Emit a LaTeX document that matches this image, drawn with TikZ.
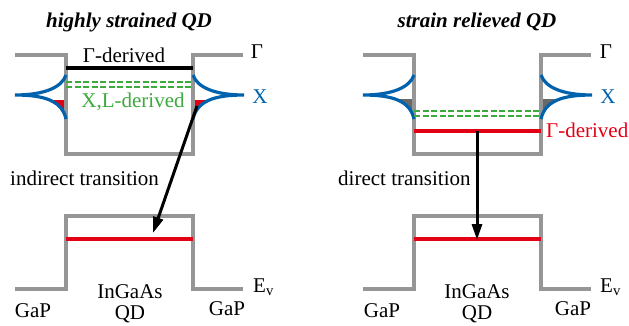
\documentclass[tikz,border=0pt]{standalone}
\usepackage{fontspec}
\setmainfont{Liberation Serif}
\usetikzlibrary{arrows.meta}
\definecolor{bandgray}{RGB}{150,150,150}
\definecolor{xblue}{RGB}{0,98,172}
\definecolor{lgreen}{RGB}{60,170,60}
\definecolor{lred}{RGB}{228,0,20}
\definecolor{fillgray}{RGB}{105,105,105}
\begin{document}
\begin{tikzpicture}[x=1pt,y=-1pt,
  band/.style={bandgray,line width=3.2pt},
  level/.style={line width=3.2pt},
  dlevel/.style={lgreen,line width=2.4pt,dash pattern=on 6pt off 2.5pt},
  xcurve/.style={xblue,line width=3.2pt},
  lbl/.style={font=\fontsize{21}{25}\selectfont,inner sep=0pt,anchor=base},
  trans/.style={line width=3pt,-{Triangle[length=16pt,width=10pt]}}]
\useasboundingbox (0,0) rectangle (629,325);

% ---------------- left panel ----------------
\begin{scope}
\clip (0,100) rectangle (66,140);
\fill[lred] (15,95) .. controls (45,95) and (62,101) .. (66,119) -- (66,95) -- cycle;
\end{scope}
\begin{scope}
\clip (193,100) rectangle (260,140);
\fill[lred] (244,95) .. controls (214,95) and (197,101) .. (193,119) -- (193,95) -- cycle;
\end{scope}
\draw[band] (15,55) -- (66,55) -- (66,154) -- (193,154) -- (193,55) -- (243,55);
\draw[band] (15,289) -- (66,289) -- (66,216) -- (193,216) -- (193,289) -- (243,289);
\draw[xcurve] (66,75) .. controls (62,87) and (45,95) .. (15,95)
              .. controls (45,95) and (62,101) .. (66,119);
\draw[xcurve] (193,75) .. controls (197,87) and (214,95) .. (244,95)
              .. controls (214,95) and (197,101) .. (193,119);
\draw[level,black] (66,68) -- (193,68);
\draw[dlevel] (66,82) -- (193,82);
\draw[dlevel] (66,87) -- (193,87);
\draw[level,lred] (66,239) -- (193,239);

\node[lbl] (ttl1) at (129,27) {\bfseries\itshape highly strained QD};
\node[lbl] (gd1) at (124,62) {Γ-derived};
\node[lbl,lgreen] (xl1) at (133,107) {X,L-derived};
\node[lbl] (g1) at (257,58) {Γ};
\node[lbl,xblue] (x1) at (260,103) {X};
\node[lbl,anchor=base west] (it) at (10,185) {indirect transition};
\node[lbl,anchor=base west] (ev1) at (253,292) {E\textsubscript{v}};
\node[lbl] (gapl1) at (33,317) {GaP};
\node[lbl] (ing1) at (130,298) {InGaAs};
\node[lbl] (qd1) at (130,319) {QD};
\node[lbl] (gapr1) at (227,315) {GaP};

\coordinate (s1) at (197,106);
\coordinate (e1) at (153,233);
\draw[trans] (s1) -- (e1);

% ---------------- right panel ----------------
\begin{scope}[xshift=348pt]
\begin{scope}
\clip (0,99) rectangle (66,140);
\fill[fillgray] (15,95) .. controls (45,95) and (62,101) .. (66,119) -- (66,95) -- cycle;
\end{scope}
\begin{scope}
\clip (193,99) rectangle (260,140);
\fill[fillgray] (244,95) .. controls (214,95) and (197,101) .. (193,119) -- (193,95) -- cycle;
\end{scope}
\draw[band] (15,55) -- (66,55) -- (66,154) -- (193,154) -- (193,55) -- (243,55);
\draw[band] (15,289) -- (66,289) -- (66,216) -- (193,216) -- (193,289) -- (243,289);
\draw[xcurve] (66,75) .. controls (62,87) and (45,95) .. (15,95)
              .. controls (45,95) and (62,101) .. (66,119);
\draw[xcurve] (193,75) .. controls (197,87) and (214,95) .. (244,95)
              .. controls (214,95) and (197,101) .. (193,119);
\draw[dlevel] (66,111) -- (193,111);
\draw[dlevel] (66,116) -- (193,116);
\draw[level,lred] (66,131) -- (193,131);
\draw[level,lred] (66,239) -- (193,239);

\node[lbl] (ttl2) at (129,27) {\bfseries\itshape strain relieved QD};
\node[lbl,lred,anchor=base west] (gd2) at (198,137) {Γ-derived};
\node[lbl] (g2) at (258,58) {Γ};
\node[lbl,xblue] (x2) at (260,103) {X};
\node[lbl,anchor=base west] (dt) at (-10,185) {direct transition};
\node[lbl,anchor=base west] (ev2) at (252,292) {E\textsubscript{v}};
\node[lbl] (gapl2) at (34,317) {GaP};
\node[lbl] (ing2) at (129,298) {InGaAs};
\node[lbl] (qd2) at (129,319) {QD};
\node[lbl] (gapr2) at (225,315) {GaP};

\coordinate (s2) at (129,131);
\coordinate (e2) at (129,240);
\draw[trans] (s2) -- (e2);
\end{scope}
\end{tikzpicture}
\end{document}
